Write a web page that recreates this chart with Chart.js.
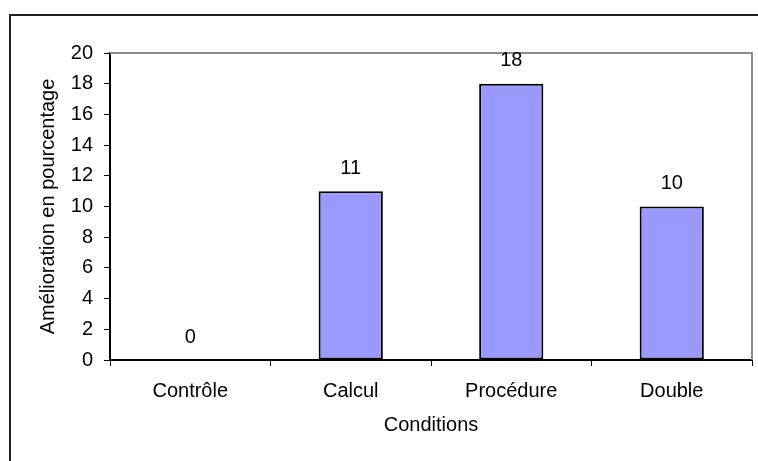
<!DOCTYPE html>
<html>
<head>
<meta charset="utf-8">
<script src="https://cdn.jsdelivr.net/npm/chart.js@4"></script>
<style>
  html, body { margin: 0; padding: 0; background: #fff; }
  #wrap { position: relative; width: 758px; height: 461px; overflow: hidden; }
  #frame { position: absolute; left: 9px; top: 14px; width: 800px; height: 500px;
           border-left: 2px solid #222; border-top: 2px solid #222; box-sizing: border-box; }
  canvas { position: absolute; left: 0; top: 0; }
</style>
</head>
<body>
<div id="wrap">
  <div id="frame"></div>
  <canvas id="c" width="758" height="461"></canvas>
</div>
<script>
const categories = ["Contrôle", "Calcul", "Procédure", "Double"];
const improvement = [0, 11, 18, 10];
const yTicks = [0, 2, 4, 6, 8, 10, 12, 14, 16, 18, 20];

const FONT = "'Liberation Sans', Arial, sans-serif";
const FS = 20;

// Grey frame on the top and right of the plot area
const plotFrame = {
  id: 'plotFrame',
  beforeDatasetsDraw(chart) {
    const { ctx, chartArea: a } = chart;
    ctx.save();
    ctx.strokeStyle = '#8c8c8c';
    ctx.lineWidth = 2;
    ctx.beginPath();
    ctx.moveTo(a.left, a.top);
    ctx.lineTo(a.right, a.top);
    ctx.lineTo(a.right, a.bottom);
    ctx.stroke();
    ctx.restore();
  }
};

// Value written above each bar
const valueLabels = {
  id: 'valueLabels',
  afterDatasetsDraw(chart) {
    const { ctx } = chart;
    const meta = chart.getDatasetMeta(0);
    const yScale = chart.scales.y;
    ctx.save();
    ctx.fillStyle = '#000';
    ctx.font = FS + 'px ' + FONT;
    ctx.textAlign = 'center';
    ctx.textBaseline = 'middle';
    meta.data.forEach((bar, i) => {
      const v = chart.data.datasets[0].data[i];
      ctx.fillText(String(v), bar.x, yScale.getPixelForValue(v) - 23);
    });
    ctx.restore();
  }
};

new Chart(document.getElementById('c'), {
  type: 'bar',
  data: {
    labels: categories,
    datasets: [{
      data: improvement,
      backgroundColor: '#9999ff',
      borderColor: '#000',
      borderWidth: 2,
      borderSkipped: false,
      barPercentage: 0.4,
      categoryPercentage: 1.0
    }]
  },
  options: {
    responsive: false,
    animation: false,
    devicePixelRatio: 1,
    layout: { padding: { left: 0, top: 53, right: 6, bottom: 0 } },
    plugins: { legend: { display: false }, tooltip: { enabled: false } },
    scales: {
      x: {
        afterFit(s) { s.height = 101; },
        grid: { offset: true, drawOnChartArea: false, tickLength: 6, color: '#000', lineWidth: 1 },
        border: { color: '#000', width: 2 },
        ticks: { color: '#000', font: { family: FONT, size: FS }, padding: 13, maxRotation: 0 },
        title: { display: true, text: 'Conditions', color: '#000',
                 font: { family: FONT, size: FS }, padding: { top: 0, bottom: 24 } }
      },
      y: {
        min: 0, max: 20,
        afterFit(s) { s.width = 110; },
        afterBuildTicks(s) { s.ticks = yTicks.map(v => ({ value: v })); },
        grid: { drawOnChartArea: false, tickLength: 6, color: '#000', lineWidth: 1 },
        border: { color: '#000', width: 2 },
        ticks: { color: '#000', font: { family: FONT, size: FS }, padding: 11 },
        title: { display: true, text: 'Amélioration en pourcentage', color: '#000',
                 font: { family: FONT, size: FS }, padding: { top: 36, bottom: 0 } }
      }
    }
  },
  plugins: [plotFrame, valueLabels]
});
</script>
</body>
</html>
